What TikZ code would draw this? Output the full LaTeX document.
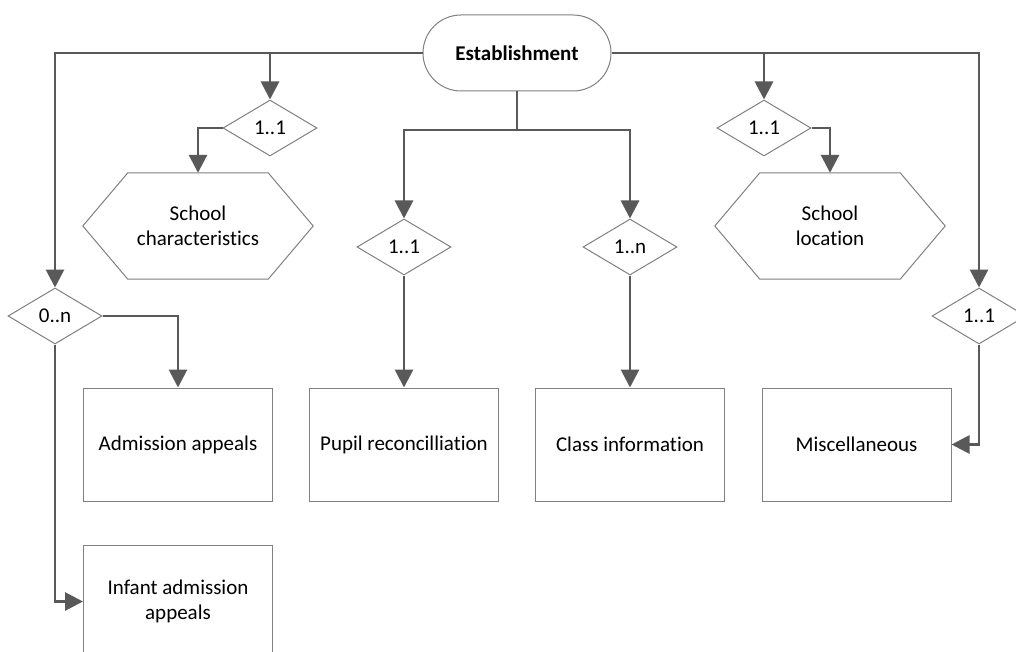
\documentclass[tikz,border=0pt]{standalone}
\usepackage{fontspec}
\setmainfont{Carlito}[Ligatures={NoCommon}]
\usetikzlibrary{shapes.geometric,arrows.meta,calc}
\definecolor{conncol}{HTML}{595959}
\definecolor{bordcol}{HTML}{808080}
\begin{document}
\begin{tikzpicture}[x=1pt,y=-1pt,
  every node/.style={font=\fontsize{21}{25.5}\selectfont, text=black},
  conn/.style={draw=conncol, line width=2.9pt, -{Triangle[width=18pt,length=18pt]}},
  plain/.style={draw=conncol, line width=2.9pt},
  ent/.style={draw=bordcol, line width=1pt, rectangle, minimum width=189pt, minimum height=113pt, inner sep=0pt, align=center},
  card/.style={draw=bordcol, line width=1pt, diamond, minimum width=94pt, minimum height=56pt, aspect=1.68, inner sep=0pt},
  hexa/.style={rectangle, minimum width=230pt, minimum height=106pt, inner sep=0pt, align=center},
  hexline/.style={draw=bordcol, line width=1pt}
]
\useasboundingbox (0,0) rectangle (1016,652);
\clip (0,0) rectangle (1016,652);

% root
\node[draw=bordcol, line width=1pt, rounded corners=38pt, minimum width=188pt, minimum height=76pt, inner sep=0pt, font=\fontsize{21}{25.5}\selectfont\bfseries] (est) at (517,53) {Establishment};

% cardinality diamonds
\node[card] (dsc) at (270,128) {1..1};
\node[card] (dloc) at (764,128) {1..1};
\node[card] (dpup) at (404,247) {1..1};
\node[card] (dcls) at (630,247) {1..n};
\node[card] (dadm) at (55,316) {0..n};
\node[card] (dmis) at (979,316) {1..1};

% hexagons
\node[hexa] (sc) at (198,226) {School\\characteristics};
\node[hexa] (loc) at (830,226) {School\\location};
\draw[hexline] (sc.west) -- ($(sc.north west)+(45,0)$) -- ($(sc.north east)+(-45,0)$) -- (sc.east) -- ($(sc.south east)+(-45,0)$) -- ($(sc.south west)+(45,0)$) -- cycle;
\draw[hexline] (loc.west) -- ($(loc.north west)+(45,0)$) -- ($(loc.north east)+(-45,0)$) -- (loc.east) -- ($(loc.south east)+(-45,0)$) -- ($(loc.south west)+(45,0)$) -- cycle;

% entity boxes
\node[ent] (adm) at (178,444.5) {Admission appeals};
\node[ent] (pup) at (404,444.5) {Pupil reconcilliation};
\node[ent] (cls) at (630,444.5) {Class information};
\node[ent] (mis) at (856.5,444.5) {Miscellaneous};
\node[ent] (inf) at (178,601.5) {Infant admission\\appeals};

% connectors
\coordinate (split) at (517,130);
\draw[conn] (est.west) -| (dadm.north);
\draw[conn] (dsc.north |- est.west) -- (dsc.north);
\draw[conn] (dsc.west) -| (sc.north);
\draw[conn] (est.east) -| (dmis.north);
\draw[conn] (dloc.north |- est.east) -- (dloc.north);
\draw[conn] (dloc.east) -| (loc.north);
\draw[plain] (est.south) -- (split);
\draw[conn] (split) -| (dpup.north);
\draw[conn] (split) -| (dcls.north);
\draw[conn] (dpup.south) -- (pup.north);
\draw[conn] (dcls.south) -- (cls.north);
\draw[conn] (dadm.east) -| (adm.north);
\draw[conn] (dadm.south) |- (inf.west);
\draw[conn] (dmis.south) |- (mis.east);
\end{tikzpicture}
\end{document}
